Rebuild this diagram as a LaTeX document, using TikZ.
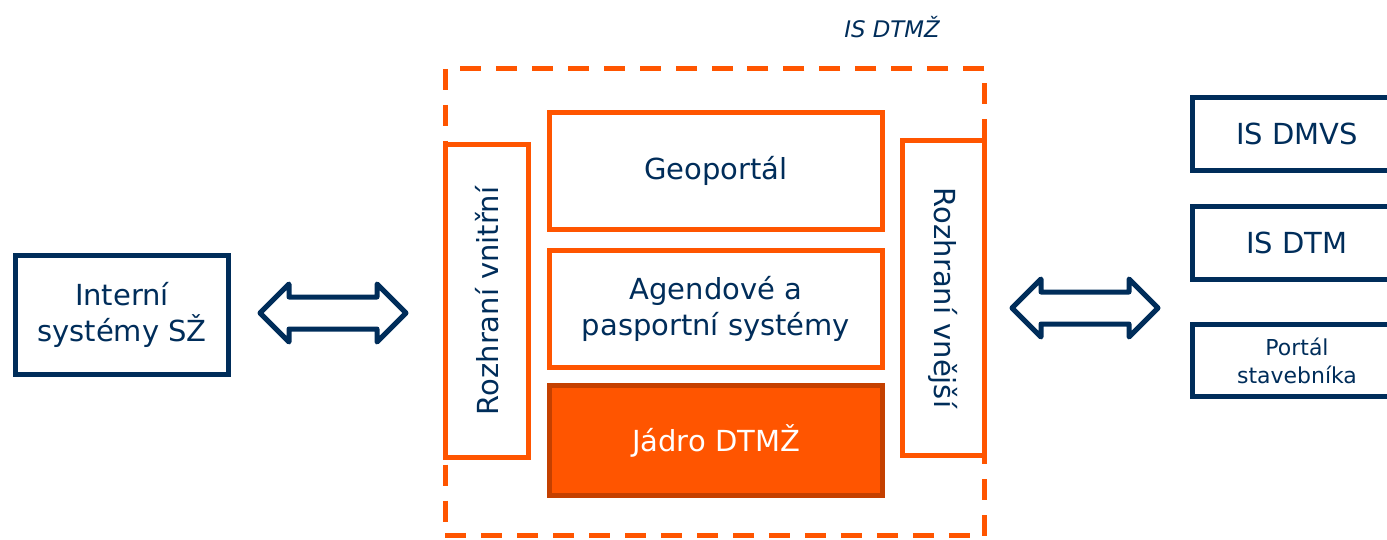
\documentclass[tikz,border=0pt]{standalone}
\usepackage{fontspec}
\setmainfont{DejaVu Sans}
\definecolor{szNavy}{RGB}{0,45,90}
\definecolor{szOrange}{RGB}{255,85,0}
\definecolor{szRust}{RGB}{196,64,0}

\begin{document}
\begin{tikzpicture}[
    x=0.02cm, y=-0.02cm,
    every node/.style={inner sep=0pt, text=szNavy, align=center, font=\fontsize{16.5}{20.5}\selectfont},
    navybox/.style={draw=szNavy, line width=0.1cm},
    orangebox/.style={draw=szOrange, line width=0.1cm, fill=white},
    corebox/.style={draw=szRust, line width=0.1cm, fill=szOrange, text=white},
    dblarrow/.style={draw=szNavy, line width=0.1cm, fill=white, line join=round},
    frame/.style={draw=szOrange, line width=0.1cm, dash pattern=on 0.42cm off 0.3cm},
]
  \useasboundingbox (0,0) rectangle (1387,539);
  % IS DTMZ frame
  \node [frame, minimum width=10.8cm, minimum height=9.35cm]      (ramec)   at (715,302)   {};
  \node [font=\fontsize{13}{15}\selectfont\itshape]                (nazev)   at (892,27)    {IS DTMŽ};
  % inner blocks
  \node [orangebox, minimum width=6.66cm, minimum height=2.34cm]  (geo)     at (716,171)   {Geoportál};
  \node [orangebox, minimum width=6.66cm, minimum height=2.34cm]  (agenda)  at (716,309)   {Agendové a\\pasportní systémy};
  \node [corebox,   minimum width=6.66cm, minimum height=2.2cm]   (jadro)   at (716,440.5) {Jádro DTMŽ};
  \node [orangebox, rotate=90,  minimum width=6.26cm, minimum height=1.66cm] (vnitrni) at (487,301)   {Rozhraní vnitřní};
  \node [orangebox, rotate=-90, minimum width=6.3cm,  minimum height=1.64cm] (vnejsi)  at (943.5,298) {Rozhraní vnější};
  % outer systems
  \node [navybox, minimum width=4.26cm, minimum height=2.38cm]    (interni) at (122,315)   {Interní\\systémy SŽ};
  \node [navybox, minimum width=4.2cm,  minimum height=1.46cm]    (dmvs)    at (1297,134)  {IS DMVS};
  \node [navybox, minimum width=4.2cm,  minimum height=1.46cm]    (dtm)     at (1297,243)  {IS DTM};
  \node [navybox, minimum width=4.2cm,  minimum height=1.44cm,
         font=\fontsize{12.5}{16}\selectfont]                      (portal)  at (1297,360.5){Portál\\stavebníka};
  % arrows
  \coordinate (sipkaL) at (333,313);
  \coordinate (sipkaP) at (1085,308);
  \foreach \s in {sipkaL, sipkaP}
    \draw [dblarrow] (\s) ++(-73,0) -- ++(29,-29) -- ++(0,13) -- ++(88,0) -- ++(0,-13)
                     -- ++(29,29) -- ++(-29,29) -- ++(0,-13) -- ++(-88,0) -- ++(0,13) -- cycle;
\end{tikzpicture}
\end{document}
